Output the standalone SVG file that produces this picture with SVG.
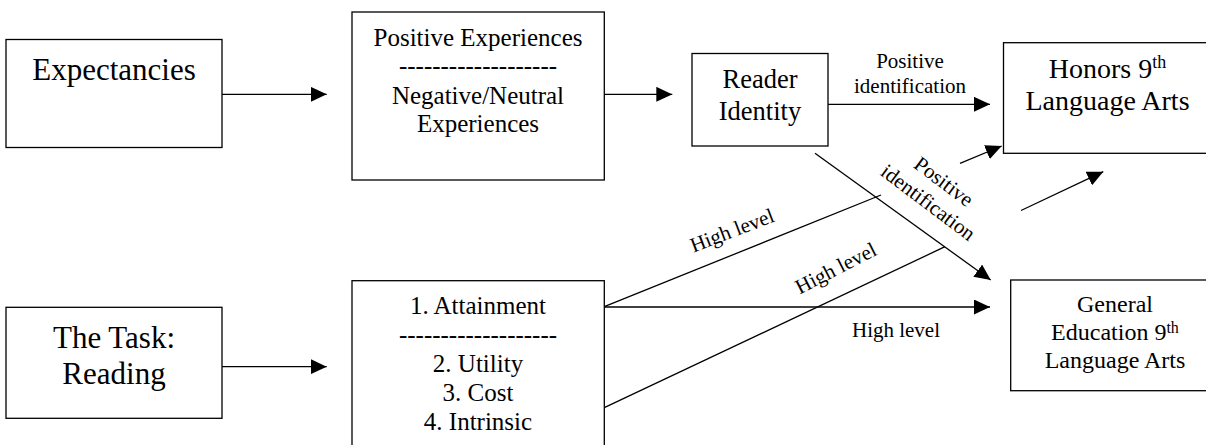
<svg xmlns="http://www.w3.org/2000/svg" width="1206" height="445" viewBox="0 0 1206 445">
<style>
.box{fill:#fff;stroke:#000;stroke-width:1.3}
.ln{fill:none;stroke:#000;stroke-width:1.3}
.arr{marker-end:url(#ah)}
text{fill:#000;text-anchor:middle}
</style>
<defs>
<marker id="ah" markerUnits="userSpaceOnUse" markerWidth="16" markerHeight="15" refX="16" refY="7.5" orient="auto">
<path d="M0,0 L16,7.5 L0,15 z" fill="#000"/>
</marker>
</defs>
<rect width="1206" height="445" fill="#fff"/>
<g font-family="'Liberation Serif', 'Times New Roman', Lato, serif">
<g id="connectors">
<line class="ln arr" x1="222" y1="94.3" x2="326.7" y2="94.3"/>
<line class="ln arr" x1="604.3" y1="94.3" x2="672.3" y2="94.3"/>
<line class="ln arr" x1="828" y1="104.3" x2="990" y2="104.3"/>
<line class="ln arr" x1="815" y1="153.3" x2="990.7" y2="280"/>
<line class="ln" x1="604.3" y1="306.7" x2="881" y2="195"/>
<line class="ln arr" x1="960" y1="163.3" x2="1001.7" y2="146"/>
<line class="ln" x1="604.3" y1="407.7" x2="945" y2="246.7"/>
<line class="ln arr" x1="1021" y1="210.5" x2="1103.3" y2="171.7"/>
<line class="ln arr" x1="604.3" y1="307" x2="990" y2="307"/>
<line class="ln arr" x1="222" y1="366.7" x2="326.7" y2="366.7"/>
<g font-size="21">
<text x="910" y="68.3">Positive</text>
<text x="910" y="93.3">identification</text>
<text x="896" y="336.7">High level</text>
<g transform="translate(732.7,232.3) rotate(-21)"><text x="0" y="5">High level</text></g>
<g transform="translate(836.7,270) rotate(-27)"><text x="0" y="5">High level</text></g>
<g transform="translate(936,192) rotate(37)"><text x="0" y="-6">Positive</text><text x="0" y="20">identification</text></g>
</g>
</g>
<g id="expectancies">
<rect class="box" x="6" y="39.5" width="216" height="108"/>
<text x="114" y="80" font-size="31">Expectancies</text>
</g>
<g id="experiences">
<rect class="box" x="352" y="12" width="252.3" height="168"/>
<g font-size="25">
<text x="478" y="45.7">Positive Experiences</text>
<text x="478" y="74">-------------------</text>
<text x="478" y="103.5">Negative/Neutral</text>
<text x="478" y="132.3">Experiences</text>
</g>
</g>
<g id="reader-identity">
<rect class="box" x="692" y="53.5" width="136" height="92.5"/>
<g font-size="26.5">
<text x="760" y="88.3">Reader</text>
<text x="760" y="120">Identity</text>
</g>
</g>
<g id="honors">
<rect class="box" x="1003.5" y="42.7" width="220" height="110.6"/>
<g font-size="28">
<text x="1107.5" y="78.3">Honors 9<tspan font-size="18" dy="-10">th</tspan></text>
<text x="1107.5" y="110">Language Arts</text>
</g>
</g>
<g id="task">
<rect class="box" x="6" y="307.3" width="216" height="111"/>
<g font-size="31">
<text x="114" y="348.3">The Task:</text>
<text x="114" y="384">Reading</text>
</g>
</g>
<g id="values">
<rect class="box" x="352" y="280.7" width="252.3" height="200"/>
<g font-size="25">
<text x="478" y="314">1. Attainment</text>
<text x="478" y="343">-------------------</text>
<text x="478" y="371.7">2. Utility</text>
<text x="478" y="400.7">3. Cost</text>
<text x="478" y="430">4. Intrinsic</text>
</g>
</g>
<g id="general-ed">
<rect class="box" x="1010.7" y="280" width="220" height="110.7"/>
<g font-size="24">
<text x="1115" y="312">General</text>
<text x="1115" y="340">Education 9<tspan font-size="16" dy="-7">th</tspan></text>
<text x="1115" y="368">Language Arts</text>
</g>
</g>
</g>
</svg>
